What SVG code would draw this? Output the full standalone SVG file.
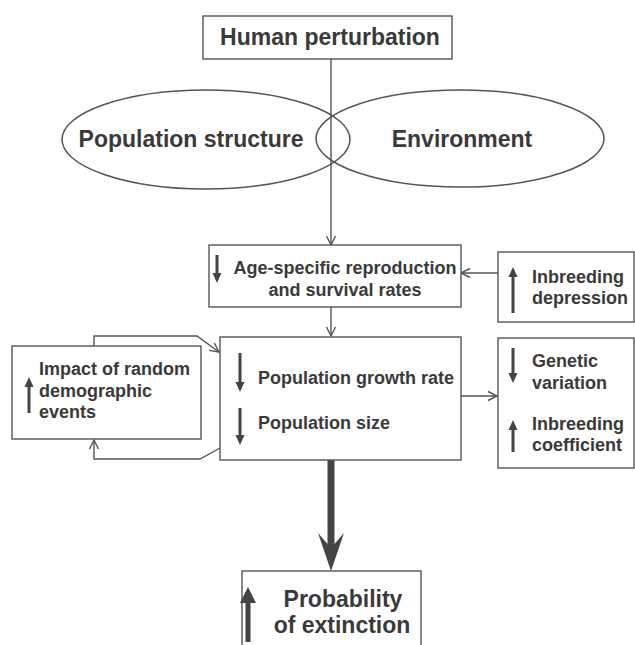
<svg xmlns="http://www.w3.org/2000/svg" width="635" height="645" viewBox="0 0 635 645">
<style>
.box{fill:#fff;stroke:#555;stroke-width:1.4}
.ell{fill:none;stroke:#555;stroke-width:1.5}
.big{font-family:"Liberation Sans",Arial,sans-serif;font-weight:bold;font-size:23px;fill:#3a3a3a}
.t{font-family:"Liberation Sans",Arial,sans-serif;font-weight:bold;font-size:18px;fill:#3a3a3a}
.con{fill:none;stroke:#555;stroke-width:1.4}
.ind{stroke:#444;stroke-width:3;fill:none}
</style>
<defs>
<marker id="open" markerUnits="userSpaceOnUse" markerWidth="12" markerHeight="12" refX="9" refY="4.5" orient="auto" overflow="visible">
<path d="M0,0 L9,4.5 L0,9" fill="none" stroke="#555" stroke-width="1.4"/>
</marker>
<marker id="solid" markerUnits="userSpaceOnUse" markerWidth="12" markerHeight="10" refX="4" refY="4.5" orient="auto" overflow="visible">
<path d="M0,0 L10,4.5 L0,9 z" fill="#444"/>
</marker>
</defs>
<rect width="635" height="645" fill="#fff"/>

<g id="connectors">
<line class="con" x1="331" y1="59" x2="331" y2="245" marker-end="url(#open)"/>
<line class="con" x1="331" y1="307" x2="331" y2="336" marker-end="url(#open)"/>
<line class="con" x1="498" y1="273" x2="461" y2="273" marker-end="url(#open)"/>
<line class="con" x1="461" y1="396" x2="497" y2="396" marker-end="url(#open)"/>
<path class="con" d="M94,346 V336 H197 L219,352" marker-end="url(#open)"/>
<path class="con" d="M220,448 L200,459 H94 V440" marker-end="url(#open)"/>
<line x1="331" y1="460" x2="331" y2="552" stroke="#444" stroke-width="7"/>
<polygon points="331,571 318,533 331,548 344,533" fill="#444"/>
</g>

<g id="human">
<rect class="box" x="203" y="16" width="249" height="43"/>
<text class="big" x="330" y="45" text-anchor="middle">Human perturbation</text>
</g>

<g id="popstructure">
<ellipse class="ell" cx="206" cy="139.5" rx="144" ry="49.5"/>
<text class="big" x="191" y="147" text-anchor="middle">Population structure</text>
</g>

<g id="environment">
<ellipse class="ell" cx="460" cy="138.5" rx="144" ry="48.5"/>
<text class="big" x="462" y="147" text-anchor="middle">Environment</text>
</g>

<g id="agespecific">
<rect class="box" x="209" y="245" width="252" height="62"/>
<line class="ind" x1="217" y1="255" x2="217" y2="277" marker-end="url(#solid)"/>
<text class="t" x="345" y="274" text-anchor="middle">Age-specific reproduction</text>
<text class="t" x="345" y="296" text-anchor="middle">and survival rates</text>
</g>

<g id="inbreedingdep">
<rect class="box" x="498" y="252" width="136" height="70"/>
<line class="ind" x1="513" y1="313" x2="513" y2="273" marker-end="url(#solid)"/>
<text class="t" x="532" y="283">Inbreeding</text>
<text class="t" x="532" y="304">depression</text>
</g>

<g id="popgrowth">
<rect class="box" x="220" y="337" width="241" height="123"/>
<line class="ind" x1="240" y1="353" x2="240" y2="386" marker-end="url(#solid)"/>
<line class="ind" x1="240" y1="408" x2="240" y2="439" marker-end="url(#solid)"/>
<text class="t" x="258" y="384">Population growth rate</text>
<text class="t" x="258" y="429">Population size</text>
</g>

<g id="impact">
<rect class="box" x="12" y="346" width="189" height="93"/>
<line class="ind" x1="29" y1="413" x2="29" y2="383" marker-end="url(#solid)"/>
<text class="t" x="39" y="375">Impact of random</text>
<text class="t" x="39" y="397">demographic</text>
<text class="t" x="39" y="418">events</text>
</g>

<g id="genetic">
<rect class="box" x="498" y="338" width="136" height="130"/>
<line class="ind" x1="513" y1="348" x2="513" y2="377" marker-end="url(#solid)"/>
<line class="ind" x1="513" y1="452" x2="513" y2="426" marker-end="url(#solid)"/>
<text class="t" x="532" y="367">Genetic</text>
<text class="t" x="532" y="389">variation</text>
<text class="t" x="532" y="430">Inbreeding</text>
<text class="t" x="532" y="451">coefficient</text>
</g>

<g id="probability">
<rect class="box" x="242" y="571" width="179" height="80"/>
<line x1="248" y1="642" x2="248" y2="600" stroke="#444" stroke-width="5"/>
<polygon points="248,587 240,603 256,603" fill="#444"/>
<text class="big" x="343" y="607" text-anchor="middle">Probability</text>
<text class="big" x="342" y="633" text-anchor="middle">of extinction</text>
</g>
</svg>
